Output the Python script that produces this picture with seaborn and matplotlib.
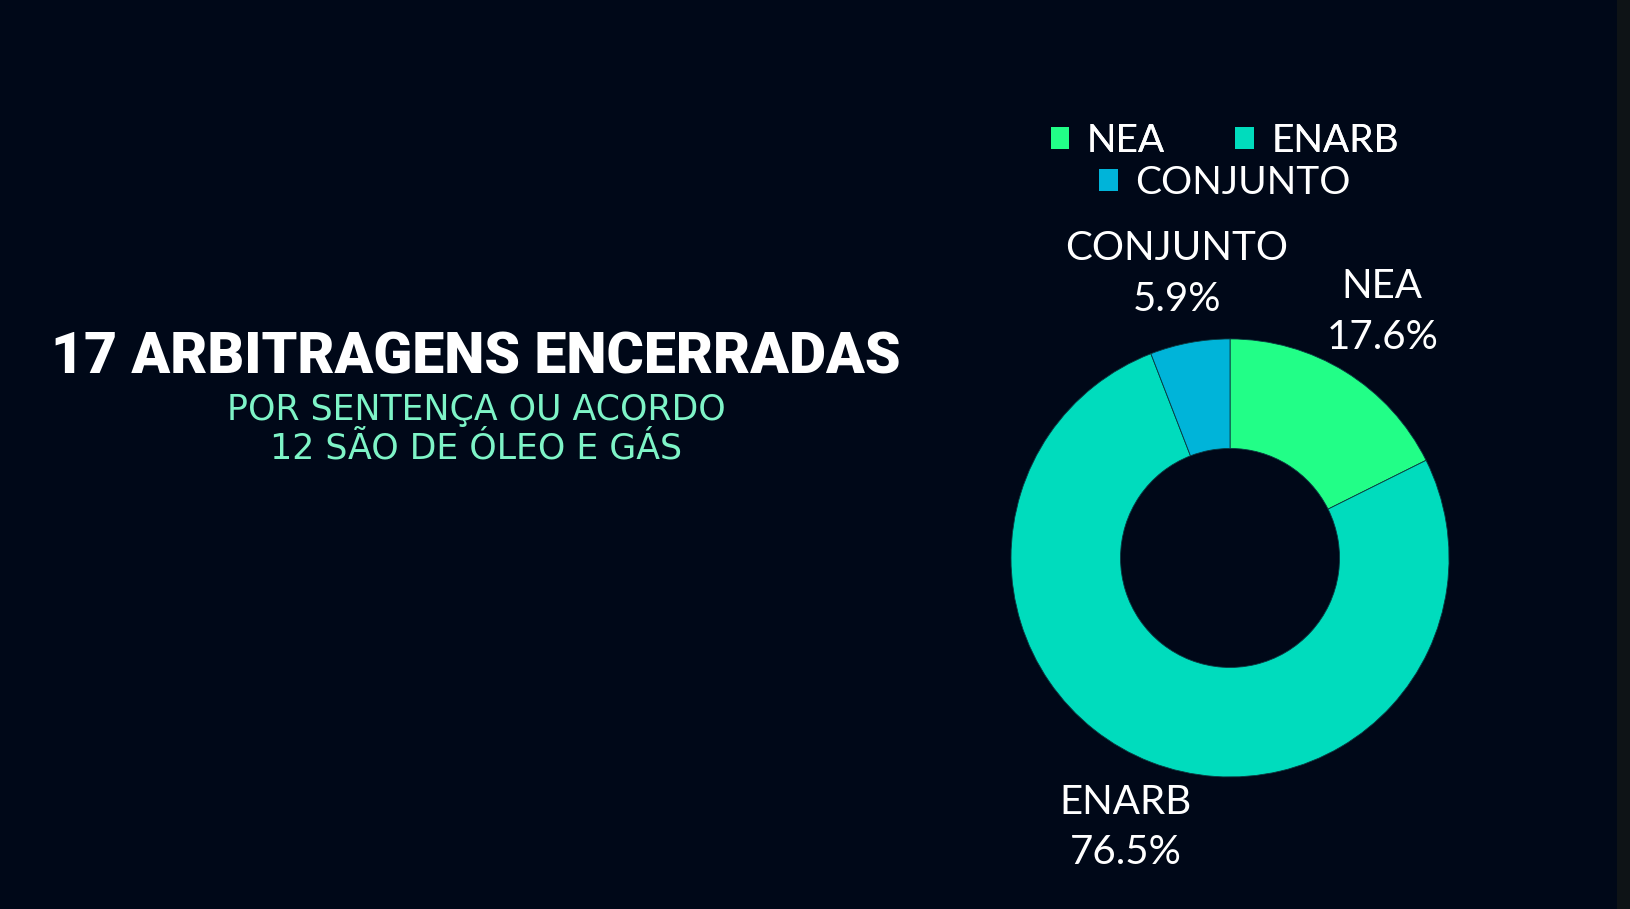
import matplotlib.pyplot as plt
import matplotlib.patches as mpatches
import seaborn as sns

# ── DATA ───────────────────────────────────────────────
categories = ['NEA', 'ENARB', 'CONJUNTO']
counts = [3, 13, 1]
colors = ['#22fe87', '#00dcbd', '#00b4d9']

title = '17 ARBITRAGENS ENCERRADAS'
subtitle = 'POR SENTENÇA OU ACORDO\n12 SÃO DE ÓLEO E GÁS'

BG = '#000818'

# ── STYLE ──────────────────────────────────────────────
sns.set_theme(style='white')
plt.rcParams['font.family'] = ['Lato', 'DejaVu Sans']

fig = plt.figure(figsize=(16.31, 9.09), dpi=100, facecolor=BG)

# thin grey strip on the right edge
fig.patches.append(mpatches.Rectangle((1617 / 1631, 0), 14 / 1631, 1,
                                      transform=fig.transFigure,
                                      facecolor='#0e1316', edgecolor='none'))

# ── DONUT ──────────────────────────────────────────────
ax = fig.add_axes([0.5393, 0.0007, 0.4297, 0.771])
ax.set_facecolor(BG)
total = sum(counts)
labels = [f'{c}\n{v / total * 100:.1f}%' for c, v in zip(categories, counts)]
wedges, texts = ax.pie(counts, labels=labels, colors=colors, startangle=90,
                       counterclock=False, labeldistance=1.32,
                       wedgeprops=dict(width=0.5, edgecolor='#0a3a40', linewidth=0.6),
                       textprops=dict(color='white', fontsize=29, linespacing=1.45))
for t in texts:
    t.set_ha('center')
    t.set_va('center')
ax.set_xlim(-1.6, 1.6)
ax.set_ylim(-1.6, 1.6)
ax.set_aspect('equal')
ax.axis('off')

# ── LEGEND (two centred rows) ──────────────────────────
handles = [mpatches.Patch(facecolor=c, edgecolor='none') for c in colors]
leg_kw = dict(frameon=False, fontsize=28, labelcolor='white',
              handlelength=0.48, handleheight=0.48, handletextpad=0.45,
              columnspacing=1.8, borderpad=0, loc='center')
leg1 = fig.legend(handles[:2], categories[:2], ncol=2,
                  bbox_to_anchor=(0.751, 0.845), **leg_kw)
fig.legend(handles[2:], categories[2:], ncol=1,
           bbox_to_anchor=(0.751, 0.799), **leg_kw)
fig.add_artist(leg1)

# ── TITLE TEXT ─────────────────────────────────────────
fig.text(0.2915, 0.606, title, ha='center', va='center', color='white',
         fontsize=41, fontweight='black', family=['Roboto', 'DejaVu Sans'])
fig.text(0.292, 0.528, subtitle, ha='center', va='center', color='#7ef4c7',
         fontsize=25, linespacing=1.15, family=['DejaVu Sans'])

plt.savefig('out.png', dpi=100, facecolor=BG)
